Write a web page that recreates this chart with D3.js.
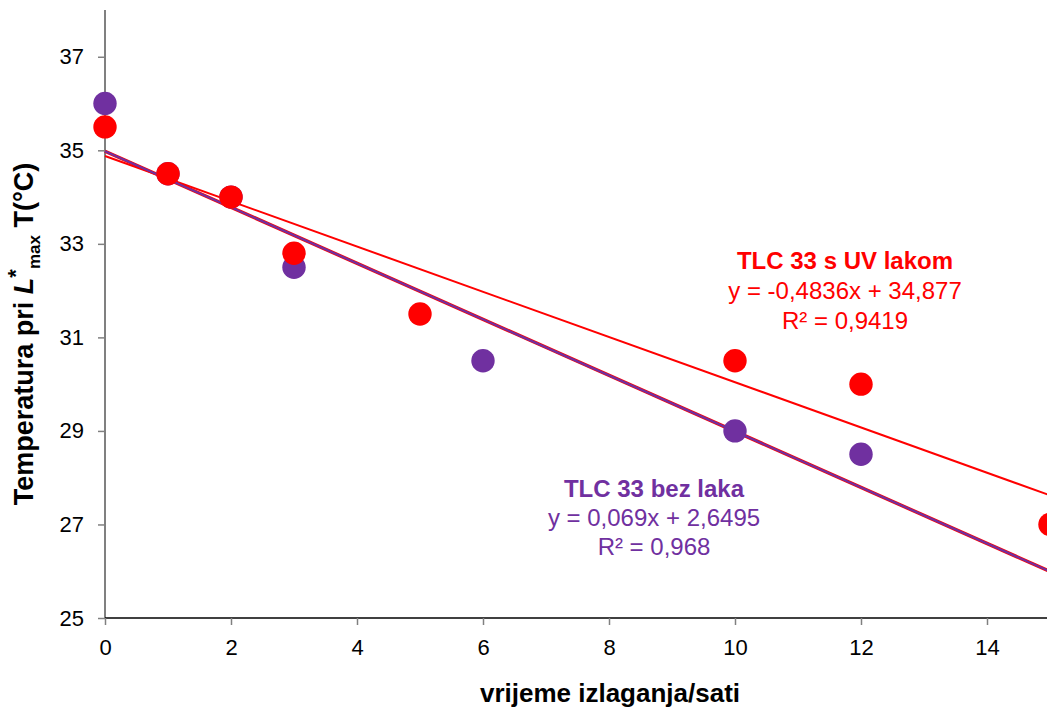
<!DOCTYPE html>
<html>
<head>
<meta charset="utf-8">
<script src="https://cdn.jsdelivr.net/npm/d3@7"></script>
<style>
  body { margin: 0; background: #fff; }
  svg { font-family: "Liberation Sans", Arial, sans-serif; }
</style>
</head>
<body>
<svg width="1047" height="713"></svg>
<script>
// data
let redX = [0, 1, 2, 3, 5, 10, 12, 15];
let redY = [35.5, 34.5, 34, 32.8, 31.5, 30.5, 30, 27];
let purpleX = [0, 1, 2, 3, 6, 10, 12];
let purpleY = [36, 34.5, 34, 32.5, 30.5, 29, 28.5];

// trendlines [intercept, slope]
let redTrend = [34.877, -0.4836];
let purpleTrend = [34.98, -0.599];

let xTicks = [0, 2, 4, 6, 8, 10, 12, 14];
let yTicks = [25, 27, 29, 31, 33, 35, 37];

let redLabel = ["TLC 33 s UV lakom", "y = -0,4836x + 34,877", "R² = 0,9419"];
let purpleLabel = ["TLC 33 bez laka", "y = 0,069x + 2,6495", "R² = 0,968"];

const RED = "#ff0000", PURPLE = "#7030a0";

let svg = d3.select("svg");

let x = d3.scaleLinear().domain([0, 15]).range([105, 1050]);
let y = d3.scaleLinear().domain([25, 38]).range([618, 10]);

// y axis (grey line)
let yAxis = svg.append("g")
    .attr("transform", "translate(105,0)")
    .call(d3.axisLeft(y).tickValues(yTicks).tickSize(7).tickPadding(14));
yAxis.select(".domain").attr("stroke", "#808080").attr("stroke-width", 2)
    .attr("d", "M0," + y(38) + "V" + y(25));
yAxis.selectAll(".tick line").attr("stroke", "#808080").attr("stroke-width", 1.5);
yAxis.selectAll(".tick text").attr("font-size", 22).attr("fill", "#000");

// x axis (black line)
let xAxis = svg.append("g")
    .attr("transform", "translate(0,618)")
    .call(d3.axisBottom(x).tickValues(xTicks).tickSize(7).tickPadding(14));
xAxis.select(".domain").attr("stroke", "#000").attr("stroke-width", 1.5)
    .attr("d", "M" + x(0) + ",0H1047");
xAxis.selectAll(".tick line").attr("stroke", "#808080").attr("stroke-width", 1.5);
xAxis.selectAll(".tick text").attr("font-size", 22).attr("fill", "#000");

// trend lines
let plot = svg.append("g");
function trendLine(t, color, w) {
    plot.append("line")
        .attr("x1", x(0)).attr("y1", y(t[0]))
        .attr("x2", x(15)).attr("y2", y(t[0] + t[1] * 15))
        .attr("stroke", color).attr("stroke-width", w);
}
trendLine(redTrend, RED, 2);
trendLine(purpleTrend, RED, 3.5);
trendLine(purpleTrend, PURPLE, 2.2);

// points
function points(xs, ys, color) {
    plot.selectAll(null)
        .data(xs.map((d, i) => [d, ys[i]]))
        .enter().append("circle")
        .attr("cx", d => x(d[0]))
        .attr("cy", d => y(d[1]))
        .attr("r", 11.7)
        .attr("fill", color);
}
points(purpleX, purpleY, PURPLE);
points(redX, redY, RED);

// annotations
function label(lines, cx, cy, gap, color) {
    lines.forEach((t, i) => {
        svg.append("text")
            .attr("x", cx).attr("y", cy + i * gap)
            .attr("text-anchor", "middle")
            .attr("font-size", 24)
            .attr("font-weight", i === 0 ? "bold" : "normal")
            .attr("fill", color)
            .text(t);
    });
}
label(redLabel, 845, 269, 30, RED);
label(purpleLabel, 654, 497, 29, PURPLE);

// axis titles
svg.append("text")
    .attr("x", 610).attr("y", 702)
    .attr("text-anchor", "middle")
    .attr("font-size", 26).attr("font-weight", "bold")
    .text("vrijeme izlaganja/sati");

let yt = svg.append("text")
    .attr("transform", "translate(33,334) rotate(-90)")
    .attr("text-anchor", "middle")
    .attr("font-size", 27).attr("font-weight", "bold");
yt.append("tspan").text("Temperatura pri ");
yt.append("tspan").attr("font-style", "italic").text("L");
yt.append("tspan").attr("dy", -10).attr("font-size", 22).text("*");
yt.append("tspan").attr("dy", 17).attr("font-size", 17).text("max");
yt.append("tspan").attr("dy", -7).text(" T(°C)");
</script>
</body>
</html>
